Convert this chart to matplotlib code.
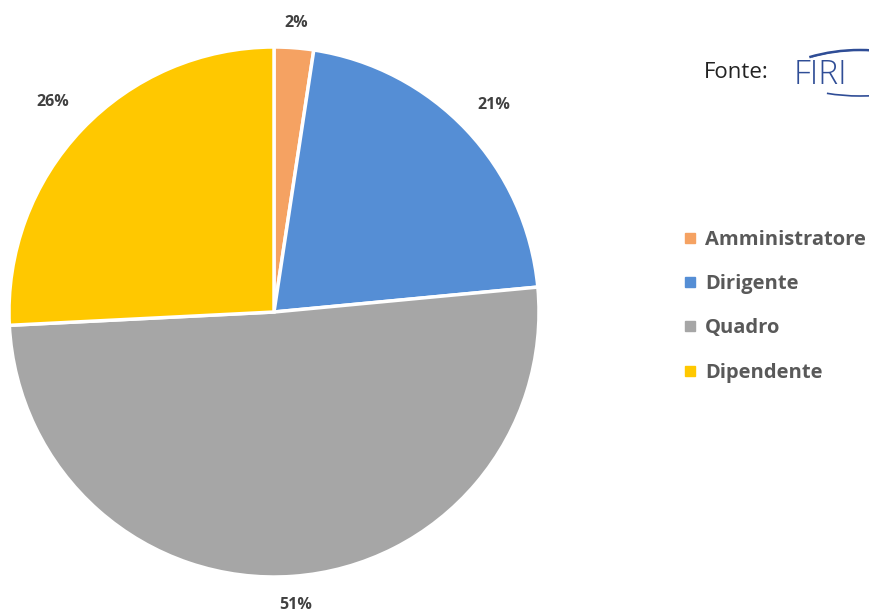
import matplotlib
matplotlib.use("Agg")
import numpy as np
import matplotlib.pyplot as plt
from matplotlib.lines import Line2D
from matplotlib.patches import Arc

categories = ["Amministratore", "Dirigente", "Quadro", "Dipendente"]
values = [2.4, 21.1, 50.7, 25.8]
colors = ["#F5A262", "#558ED5", "#A6A6A6", "#FFC800"]
label_dist = [1.095, 1.14, 1.11, 1.15]

plt.rcParams['font.family'] = ['Open Sans', 'DejaVu Sans']

fig = plt.figure(figsize=(8.7, 6.16), dpi=100)
ax = fig.add_axes([9 / 870, 39 / 616, 530 / 870, 530 / 616])

wedges, texts, autotexts = ax.pie(
    values, colors=colors, startangle=90, counterclock=False,
    autopct=lambda p: f"{p:.0f}%", pctdistance=1.13, radius=1,
    wedgeprops=dict(edgecolor="white", linewidth=2.5))
for w, t, d in zip(wedges, autotexts, label_dist):
    ang = np.deg2rad((w.theta1 + w.theta2) / 2)
    t.set_position((d * np.cos(ang), d * np.sin(ang)))
    t.set_fontsize(11.5)
    t.set_fontweight("bold")
    t.set_color("#404040")
ax.set_xlim(-1, 1)
ax.set_ylim(-1, 1)

handles = [Line2D([], [], marker="s", linestyle="none", markersize=7,
                  markerfacecolor=c, markeredgecolor=c) for c in colors]
leg = fig.legend(handles, categories, loc="upper left",
                 bbox_to_anchor=(666 / 870, 1 - 212 / 616), frameon=False,
                 handlelength=0.6, handletextpad=0.45, labelspacing=1.2,
                 prop=dict(size=14.5, weight="bold"))
for t in leg.get_texts():
    t.set_color("#595959")

# source
fig.text(704 / 870, 1 - 72 / 616, "Fonte:", fontsize=16, color="#222222",
         va="center", ha="left")
fig.text(794 / 870, 1 - 75 / 616, "FIRI", fontsize=24, color="#2F4D96",
         va="center", ha="left", fontweight="light")
logo = fig.add_axes([785 / 870, 1 - 110 / 616, 150 / 870, 70 / 616])
logo.set_xlim(0, 150)
logo.set_ylim(0, 70)
logo.axis("off")
for r, lw in [(95, 1.8), (90, 1.0)]:
    logo.add_patch(Arc((75, 60 - r), 2 * r * 1.4, 2 * r, theta1=60, theta2=120,
                       color="#2F4D96", linewidth=lw))
logo.add_patch(Arc((75, 14 + 60), 2 * 80 * 1.4, 2 * 60, theta1=240, theta2=300,
                   color="#2F4D96", linewidth=1.2))

fig.savefig("out.png", dpi=100)
